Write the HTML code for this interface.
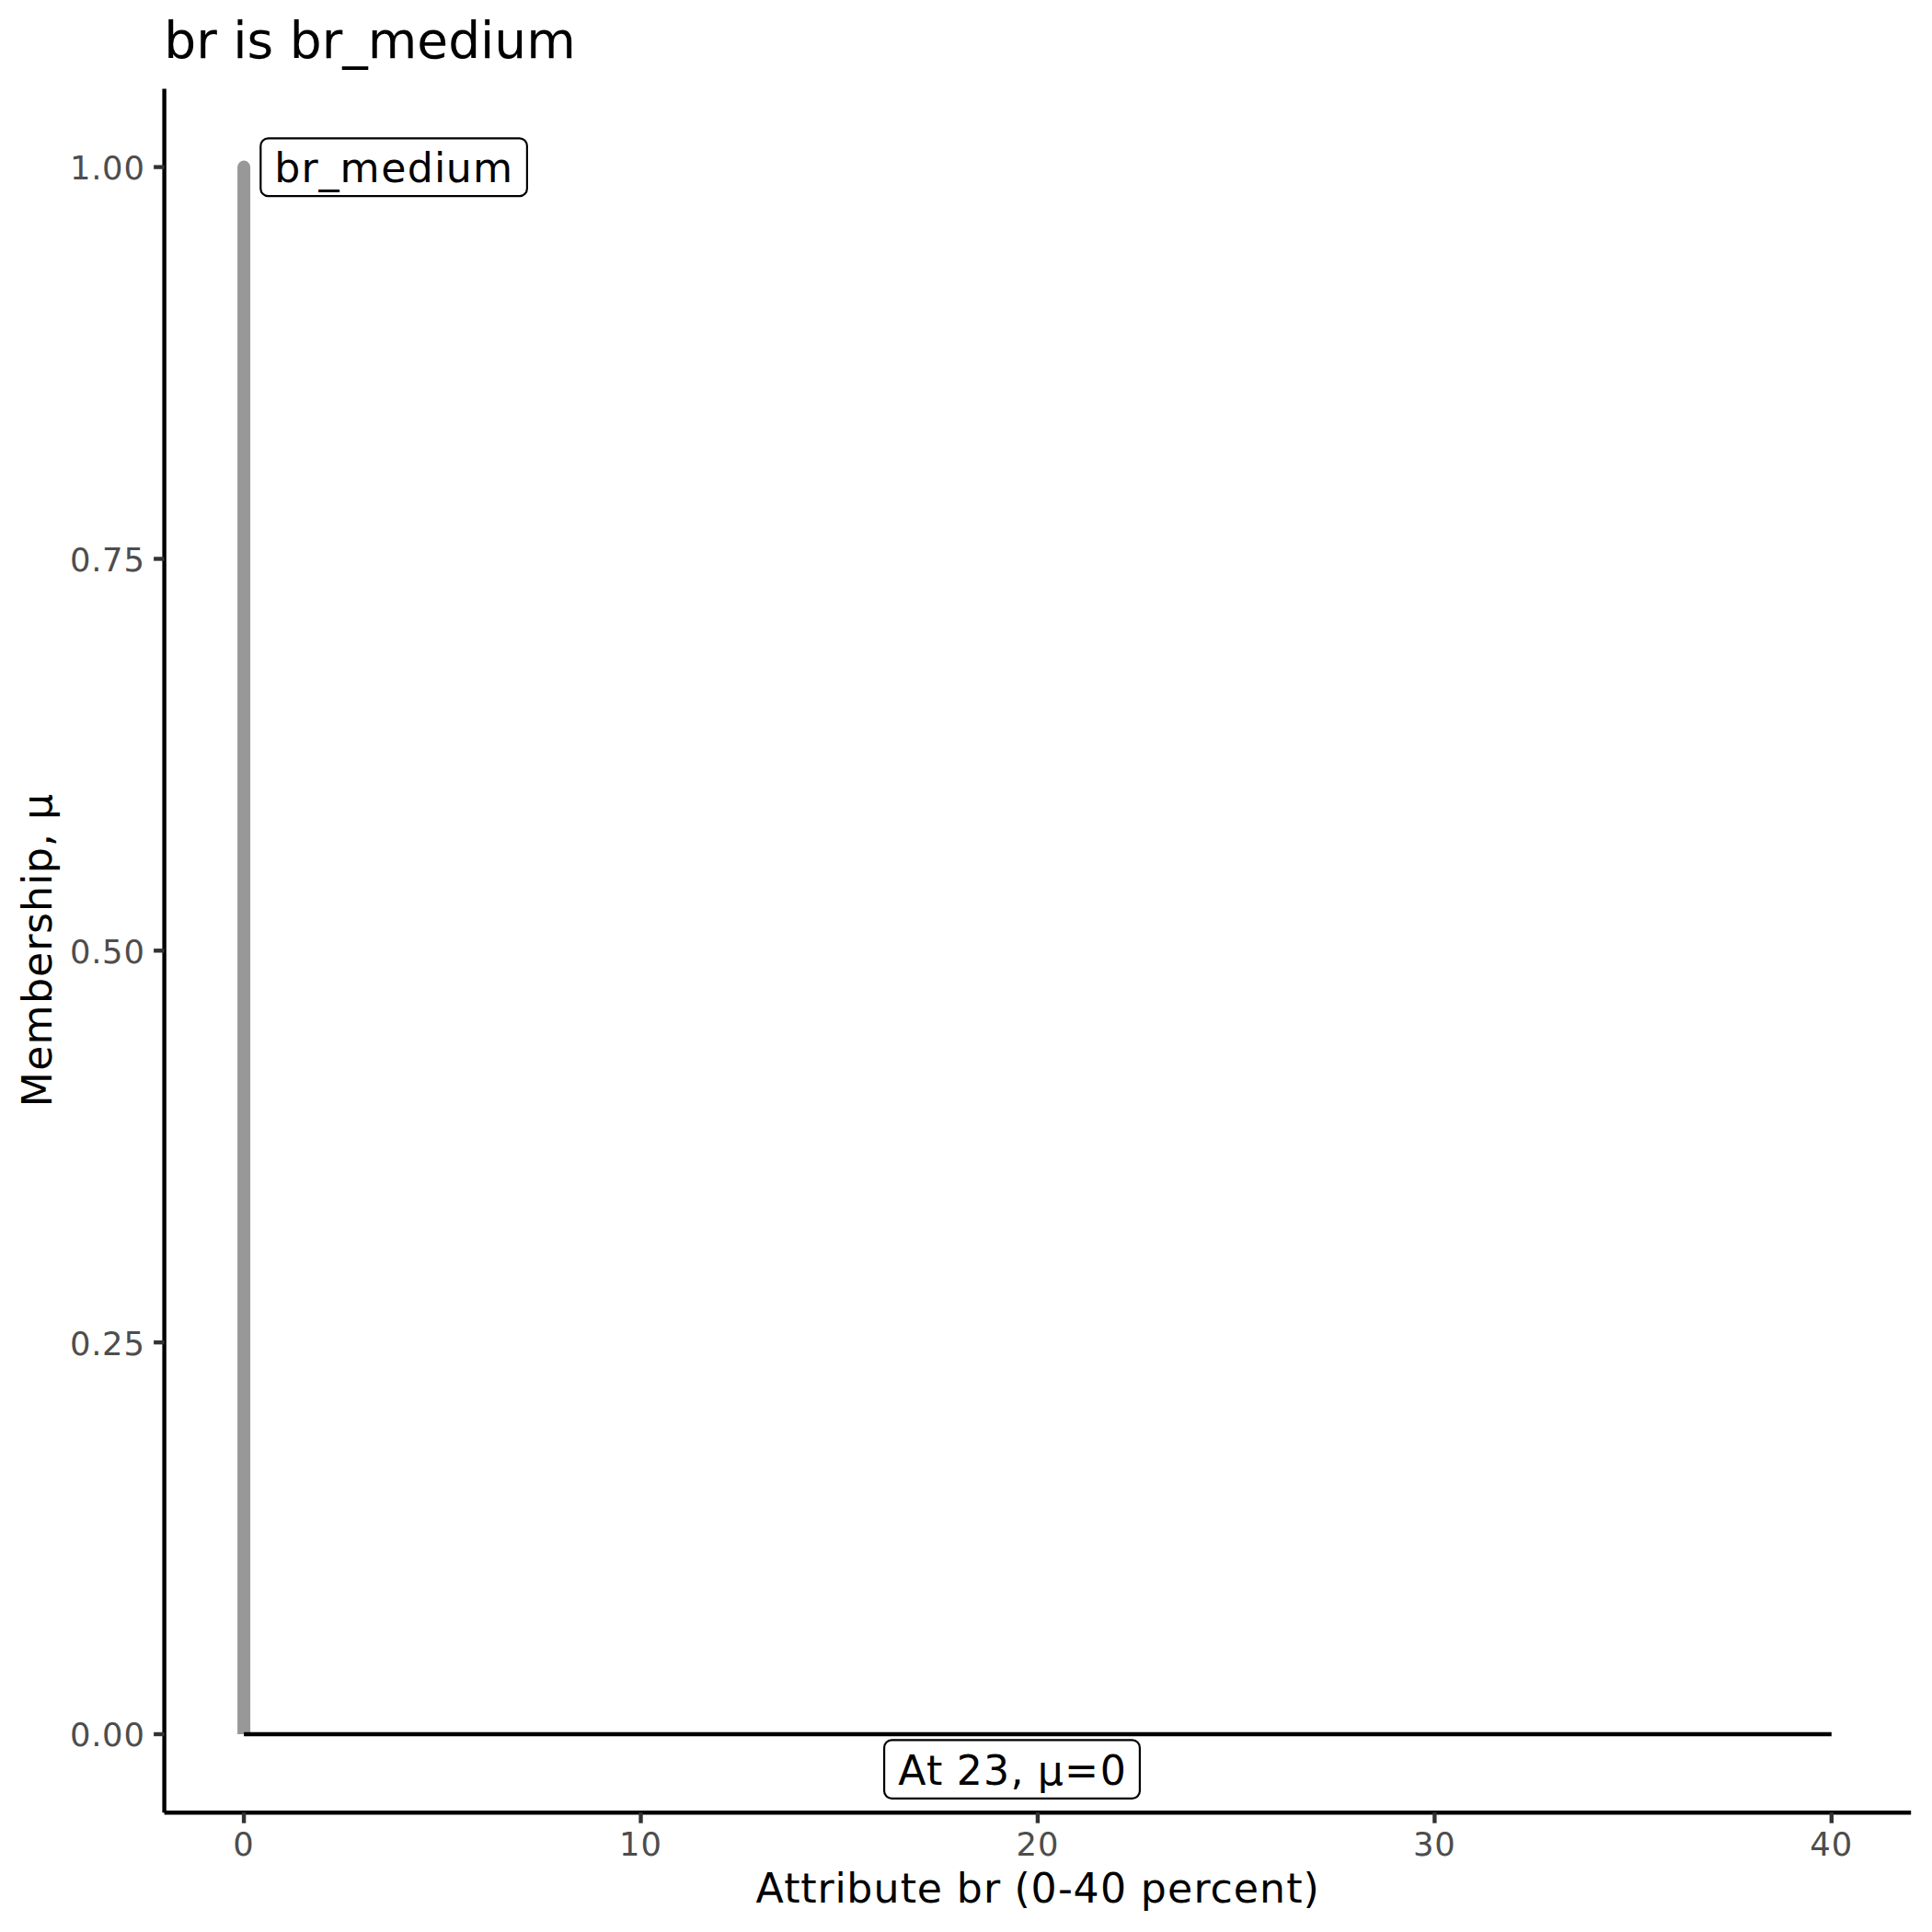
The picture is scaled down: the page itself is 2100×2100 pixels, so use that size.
<!DOCTYPE html>
<html>
<head>
<meta charset="utf-8">
<title>br is br_medium</title>
<style>
html,body{margin:0;padding:0;background:#fff;}
body{width:2100px;height:2100px;overflow:hidden;}
svg{display:block;}
text{font-family:"DejaVu Sans","Liberation Sans",sans-serif;white-space:pre;}
</style>
</head>
<body>
<svg width="2100" height="2100" viewBox="0 0 2100 2100">
<rect x="0" y="0" width="2100" height="2100" fill="#ffffff"/>
<!-- data lines -->
<path d="M265.10 1885.00 L265.10 181.60 L265.10 1885.00" fill="none" stroke="#989898" stroke-width="14" stroke-linejoin="round" stroke-linecap="butt"/>
<path d="M265.10 1885.00 L1990.80 1885.00" fill="none" stroke="#000000" stroke-width="4.4" stroke-linecap="butt"/>
<!-- labels -->
<rect x="283.3" y="150.4" width="289.6" height="62.8" rx="8.25" ry="8.25" fill="#ffffff" stroke="#000000" stroke-width="2.2"/>
<text x="298.20 327.45 346.40 369.45 414.36 442.70 471.97 484.78 513.98" y="198.00" font-size="44.23" fill="#000000">br_medium</text>
<rect x="961.1" y="1891.4" width="277.8" height="63.5" rx="8.25" ry="8.25" fill="#ffffff" stroke="#000000" stroke-width="2.2"/>
<text x="976.36 1007.08 1025.14 1039.79 1069.12 1098.45 1113.11 1127.75 1157.08 1195.70" y="1940.00" font-size="44.23" fill="#000000">At 23, μ=0</text>
<!-- axes -->
<path d="M178.6 1970.2 L178.6 96.5" fill="none" stroke="#000000" stroke-width="4.4"/>
<path d="M178.6 1970.2 L2077.2 1970.2" fill="none" stroke="#000000" stroke-width="4.4"/>
<g stroke="#333333" stroke-width="4.4" fill="none">
<path d="M167.10 181.60 H178.6"/>
<path d="M167.10 607.45 H178.6"/>
<path d="M167.10 1033.30 H178.6"/>
<path d="M167.10 1459.15 H178.6"/>
<path d="M167.10 1885.00 H178.6"/>
<path d="M265.10 1970.2 V1981.70"/>
<path d="M696.53 1970.2 V1981.70"/>
<path d="M1127.95 1970.2 V1981.70"/>
<path d="M1559.38 1970.2 V1981.70"/>
<path d="M1990.80 1970.2 V1981.70"/>
</g>
<!-- tick labels -->
<text x="75.89 99.34 111.06 134.53" y="195.00" font-size="35.39" fill="#4D4D4D">1.00</text>
<text x="75.89 99.34 111.06 134.53" y="620.85" font-size="35.39" fill="#4D4D4D">0.75</text>
<text x="75.89 99.34 111.06 134.53" y="1046.70" font-size="35.39" fill="#4D4D4D">0.50</text>
<text x="75.89 99.34 111.06 134.53" y="1472.55" font-size="35.39" fill="#4D4D4D">0.25</text>
<text x="75.89 99.34 111.06 134.53" y="1898.40" font-size="35.39" fill="#4D4D4D">0.00</text>
<text x="253.37" y="2016.60" font-size="35.39" fill="#4D4D4D">0</text>
<text x="673.06 696.51" y="2016.60" font-size="35.39" fill="#4D4D4D">10</text>
<text x="1104.48 1127.93" y="2016.60" font-size="35.39" fill="#4D4D4D">20</text>
<text x="1535.91 1559.36" y="2016.60" font-size="35.39" fill="#4D4D4D">30</text>
<text x="1967.33 1990.78" y="2016.60" font-size="35.39" fill="#4D4D4D">40</text>
<!-- axis titles -->
<text x="821.59 852.30 870.37 888.45 907.40 920.20 949.46 978.68 996.74 1025.10 1039.76 1069.02 1087.96 1102.62 1120.60 1149.93 1166.55 1195.88 1225.21 1239.87 1269.12 1297.48 1315.41 1340.76 1369.12 1398.34 1416.41" y="2067.80" font-size="44.23" fill="#000000">Attribute br (0-40 percent)</text>
<text transform="translate(55.90 1032.60) rotate(-90)" x="-170.66 -131.16 -102.97 -58.36 -29.30 -1.12 17.72 41.58 70.59 83.33 112.39 126.95 141.50" y="0" font-size="44.23" fill="#000000">Membership, μ</text>
<!-- title -->
<text x="178.30 213.21 235.82 253.30 268.58 297.24 314.72 349.63 372.24 399.74 453.32 487.16 522.07 537.35 572.21" y="63.40" font-size="55.00" fill="#000000">br is br_medium</text>
</svg>
</body>
</html>
